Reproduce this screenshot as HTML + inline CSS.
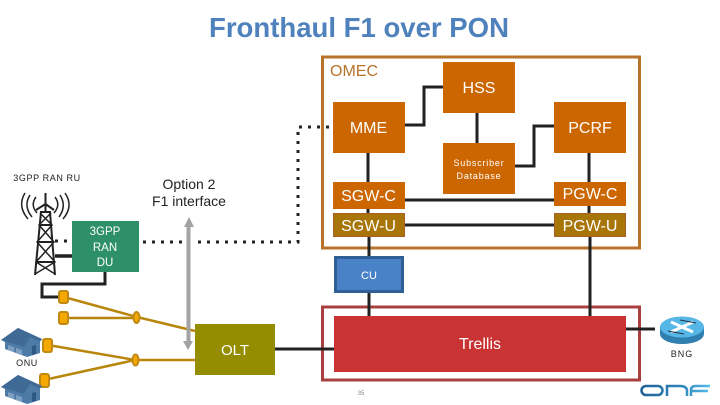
<!DOCTYPE html>
<html><head><meta charset="utf-8"><style>
html,body{margin:0;padding:0;background:#fff}
svg{display:block}
text{font-family:"Liberation Sans",sans-serif}
</style></head><body>
<svg width="720" height="405" viewBox="0 0 720 405" xmlns="http://www.w3.org/2000/svg">
<defs>
<linearGradient id="onfg" gradientUnits="userSpaceOnUse" x1="640" y1="0" x2="710" y2="0"><stop offset="0" stop-color="#1f5f95"/><stop offset=".6" stop-color="#2f86bd"/><stop offset="1" stop-color="#55bde8"/></linearGradient>
<g id="house">
<path d="M1 340L18 328L42 339L40 341.500V353L27 357L5 349V342Z" fill="#4d7aa6"/>
<path d="M1 340L18 328L42 339L40 341.500L30 337L24 347Z" fill="#3f6a96"/>
<path d="M8 345L14 347V352L8 350ZM16 348L22 350V355L16 353Z" fill="#7d9fc2"/>
<path d="M32 346L36 345V354L32 355Z" fill="#2c5a85"/>
</g>
</defs>
<rect width="720" height="405" fill="#fff"/>
<text x="359" y="37" text-anchor="middle" font-size="28" font-weight="bold" fill="#4f81bd" textLength="300" lengthAdjust="spacingAndGlyphs">Fronthaul F1 over PON</text>

<rect x="322.500" y="57" width="317" height="191" fill="none" stroke="#b8732a" stroke-width="3"/>
<rect x="322.500" y="307" width="317" height="73" fill="none" stroke="#a84040" stroke-width="3"/>

<g fill="none" stroke="#222" stroke-width="3">
<path d="M405 125H424V87H443"/>
<path d="M477 113V143"/>
<path d="M368 153V182M368 209V213M369 237V256M369 293V316"/>
<path d="M515 166H534V126H554"/>
<path d="M589 153V182M589 206V213M590 237V316"/>
<path d="M405 200H554M405 225H554"/>
<path d="M275 349H334"/>
<path d="M626 329H655"/>
<path d="M55 256H72" stroke-width="3.500"/>
<path d="M105 272V284H42V297H60"/>
</g>

<g fill="none" stroke="#222" stroke-width="3" stroke-dasharray="3 6">
<path d="M55 241H72"/>
<path d="M143 242H183"/>
<path d="M198 242H298V127H335"/>
</g>

<g fill="none" stroke="#b8860b" stroke-width="2.500">
<path d="M64 297L137 317L195 331"/>
<path d="M64 318H137"/>
<path d="M48 345L135 360H195"/>
<path d="M44 380L135 360"/>
</g>
<g fill="#f5a800" stroke="#c08a10" stroke-width="2">
<rect x="59" y="291" width="9" height="12" rx="2"/>
<rect x="59" y="312" width="9" height="12" rx="2"/>
<rect x="43" y="339" width="9" height="13" rx="2"/>
<rect x="40" y="374" width="9" height="13" rx="2"/>
<ellipse cx="136.500" cy="317.500" rx="3" ry="5.500"/>
<ellipse cx="135.500" cy="360" rx="3" ry="5.500"/>
</g>

<g fill="#cc6600">
<rect x="443" y="62" width="72" height="51"/>
<rect x="333" y="102" width="72" height="51"/>
<rect x="443" y="143" width="72" height="51"/>
<rect x="554" y="102" width="72" height="51"/>
<rect x="333" y="182" width="72" height="27"/>
<rect x="554" y="182" width="72" height="24"/>
</g>
<rect x="333.500" y="213.500" width="71" height="23" fill="#a87508" stroke="#a8602a"/>
<rect x="554.500" y="213.500" width="71" height="23" fill="#a87508" stroke="#a8602a"/>
<rect x="335.500" y="257.500" width="67" height="34" fill="#4a82c8" stroke="#2f5f95" stroke-width="3"/>
<rect x="334" y="316" width="292" height="56" fill="#c93333"/>
<rect x="195" y="324" width="80" height="51" fill="#948d00"/>
<rect x="72" y="221" width="67" height="51" fill="#2e9068"/>

<path d="M189 217L194 227H190.500V341H193L188 350L183 341H186.500V227H184Z" fill="#a3a3a3"/>

<g fill="none" stroke="#222" stroke-width="2">
<path d="M41 212L35 275M50 212L55 275"/>
<path d="M45.500 193V212M36 210L45.500 204L54 210"/>
<path d="M40 212H51M39 225H52M37 242H54M36 262H55"/>
<path d="M40 213L52 225L37 242L55 262L35 274M51 213L39 225L54 242L36 262L55 274" stroke-width="1.500"/>
</g>
<g fill="none" stroke="#222" stroke-width="1.500">
<path d="M36 197Q30 205 37 213M30 195Q23 206 32 217M25 193Q17 206 28 219"/>
<path d="M55 197Q61 205 54 213M60 195Q67 206 59 217M65 193Q74 206 63 219"/>
</g>

<use href="#house"/>
<use href="#house" y="47"/>

<ellipse cx="682" cy="334" rx="22" ry="10" fill="#2f7fb0"/>
<rect x="660" y="327" width="44" height="7" fill="#2f7fb0"/>
<ellipse cx="682" cy="327" rx="22" ry="10.500" fill="#56b6e6"/>
<path d="M671 322L693 332M693 322L671 332" stroke="#fff" stroke-width="3"/>
<path d="M680 320L696 323M668 331L684 334" stroke="#234" stroke-width="1"/>

<g fill="none" stroke="url(#onfg)" stroke-width="2.500">
<rect x="641.500" y="386" width="21" height="9" rx="4.500"/>
<path d="M667 396V386H680Q687 386 687 391V396"/>
<path d="M691 396V390Q691 386 696 386H710M692 391H708"/>
</g>

<g fill="#fff" font-size="16" text-anchor="middle">
<text x="479" y="93">HSS</text>
<text x="368.500" y="133">MME</text>
<text x="590" y="133">PCRF</text>
<text x="368.500" y="201">SGW-C</text>
<text x="590" y="199">PGW-C</text>
<text x="368.500" y="231">SGW-U</text>
<text x="590" y="231">PGW-U</text>
<text x="235" y="355" font-size="15">OLT</text>
<text x="480" y="349" font-size="16">Trellis</text>
<text x="369" y="279" font-size="11">CU</text>
<g font-size="9" letter-spacing=".8">
<text x="479" y="166">Subscriber</text>
<text x="479" y="179">Database</text>
</g>
<g font-size="11.500">
<text x="105" y="235">3GPP</text>
<text x="105" y="251">RAN</text>
<text x="105" y="266">DU</text>
</g>
</g>
<text x="330" y="76" font-size="16" fill="#b8732a">OMEC</text>
<g font-size="14" fill="#222" text-anchor="middle">
<text x="189" y="189">Option 2</text>
<text x="189" y="206">F1 interface</text>
</g>
<text x="47" y="181" font-size="9" fill="#222" text-anchor="middle" letter-spacing=".6">3GPP RAN RU</text>
<text x="27" y="366" font-size="9" fill="#222" text-anchor="middle" letter-spacing=".6">ONU</text>
<text x="682" y="357" font-size="9" fill="#222" text-anchor="middle" letter-spacing="1">BNG</text>
<text x="361" y="395" font-size="6" fill="#888" text-anchor="middle">35</text>
</svg>
</body></html>
